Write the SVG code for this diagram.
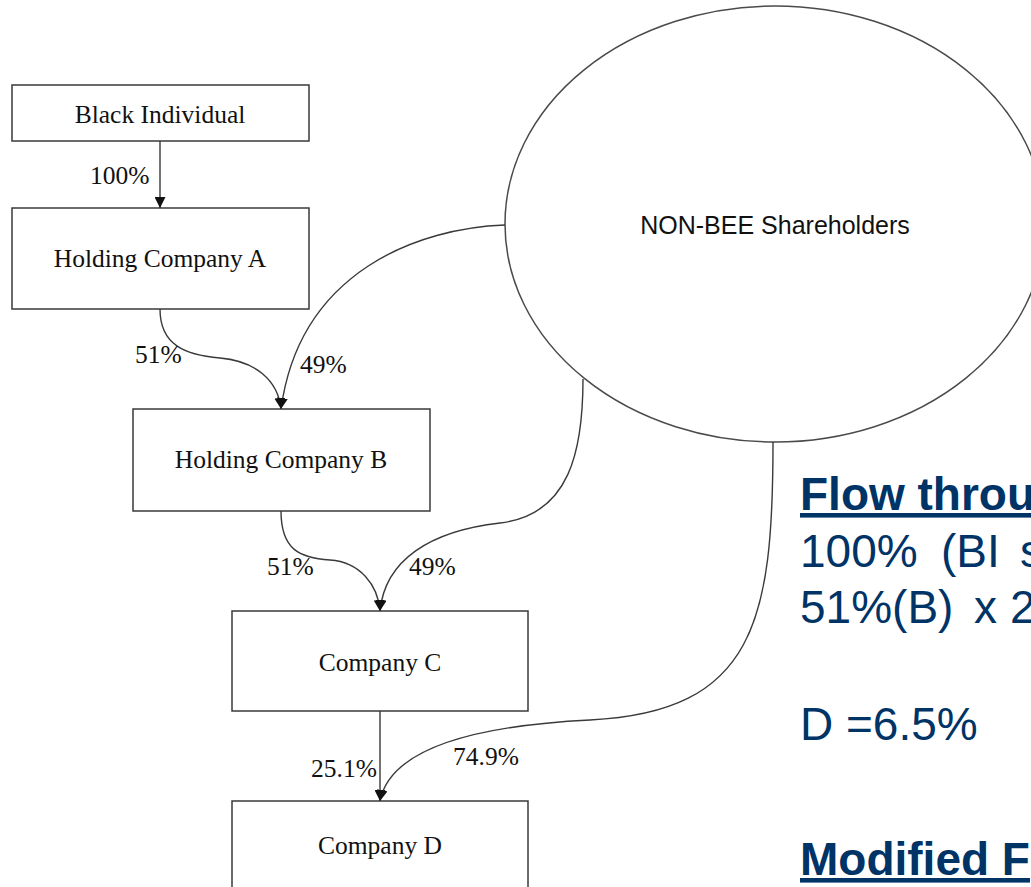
<svg xmlns="http://www.w3.org/2000/svg" width="1031" height="887" viewBox="0 0 1031 887">
<style>
.box{fill:#fff;stroke:#3a3a3a;stroke-width:1.5}
.ell{fill:#fff;stroke:#4a4a4a;stroke-width:1.5}
.lbl{font-family:"Liberation Serif","Times New Roman",serif;font-size:25.5px;fill:#111}
.mid{text-anchor:middle}
.ar{font-family:"Liberation Sans",Arial,sans-serif;font-size:25px;fill:#111}
.con{fill:none;stroke:#3a3a3a;stroke-width:1.4}
.blue{font-family:"Liberation Sans",Arial,sans-serif;font-size:46px;fill:#003366}
.bold{font-weight:bold;text-decoration:underline}
</style>
<defs>
<marker id="tip" markerWidth="11" markerHeight="11" refX="11" refY="5.5" orient="auto" markerUnits="userSpaceOnUse" viewBox="0 0 11 11">
<path d="M0,0 L11,5.5 L0,11 Z" fill="#111"/>
</marker>
</defs>
<g id="nonbee">
<ellipse class="ell" cx="775" cy="224" rx="270" ry="218"/>
<text class="ar mid" x="775" y="234">NON-BEE Shareholders</text>
</g>
<g id="black-individual">
<rect class="box" x="12" y="85" width="297" height="56"/>
<text class="lbl mid" x="160" y="123">Black Individual</text>
</g>
<g id="holding-a">
<rect class="box" x="12" y="208" width="297" height="101"/>
<text class="lbl mid" x="160" y="267">Holding Company A</text>
</g>
<g id="holding-b">
<rect class="box" x="133" y="409" width="297" height="102"/>
<text class="lbl mid" x="281" y="468">Holding Company B</text>
</g>
<g id="company-c">
<rect class="box" x="232" y="611" width="296" height="100"/>
<text class="lbl mid" x="380" y="671">Company C</text>
</g>
<g id="company-d">
<rect class="box" x="232" y="801" width="296" height="100"/>
<text class="lbl mid" x="380" y="854">Company D</text>
</g>
<g id="connectors">
<path class="con" d="M160,141 L160,208" marker-end="url(#tip)"/>
<path class="con" d="M160,309 C160,345 185,355 220,358 C255,361 278,380 281,409" marker-end="url(#tip)"/>
<path class="con" d="M505,225 C420,228 300,270 281,409" marker-end="url(#tip)"/>
<path class="con" d="M281,511 C281,550 300,558 330,560 C360,562 378,585 380,611" marker-end="url(#tip)"/>
<path class="con" d="M583,379 C583,450 570,515 500,523 C430,531 385,560 380,611" marker-end="url(#tip)"/>
<path class="con" d="M380,711 L380,801" marker-end="url(#tip)"/>
<path class="con" d="M773,442 C773,620 755,712 590,720 C470,726 390,750 380,801" marker-end="url(#tip)"/>
<text class="lbl" x="90" y="184">100%</text>
<text class="lbl" x="135" y="363">51%</text>
<text class="lbl" x="300" y="373">49%</text>
<text class="lbl" x="267" y="575">51%</text>
<text class="lbl" x="409" y="575">49%</text>
<text class="lbl" x="311" y="777">25.1%</text>
<text class="lbl" x="453" y="765">74.9%</text>
</g>
<g id="notes">
<text class="blue bold" x="800" y="510">Flow throu</text>
<text class="blue" y="567"><tspan x="800">100%</tspan><tspan x="941">(BI</tspan><tspan x="1020">s</tspan></text>
<text class="blue" y="623"><tspan x="800">51%(B)</tspan><tspan x="974">x</tspan><tspan x="1010">2</tspan></text>
<text class="blue" x="800" y="740">D =6.5%</text>
<text class="blue bold" x="800" y="875">Modified F</text>
</g>
</svg>
